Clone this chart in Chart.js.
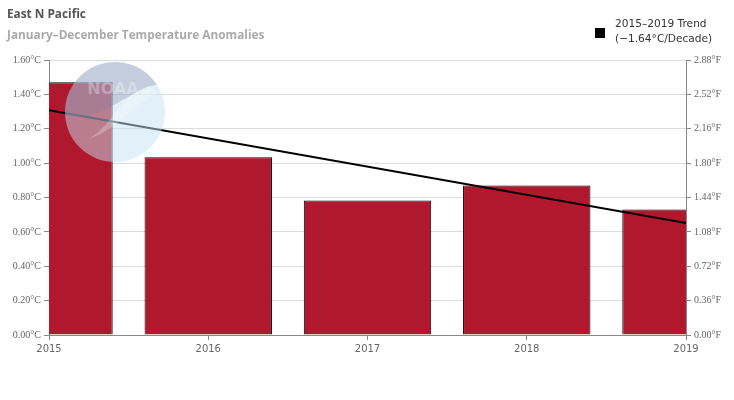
<!DOCTYPE html>
<html>
<head>
<meta charset="utf-8">
<script src="https://cdn.jsdelivr.net/npm/chart.js@4"></script>
<style>
  body { margin: 0; background: #fff; }
  #wrap { position: relative; width: 734px; height: 400px; }
  #title { position: absolute; left: 7px; top: 5px; font: bold 11.8px "Open Sans", sans-serif; color: #555; }
  #subtitle { position: absolute; left: 7px; top: 26px; font: bold 11.8px "Open Sans", sans-serif; color: #aaa; }
  #legend { position: absolute; left: 595px; top: 16px; font: 10.6px "DejaVu Sans", sans-serif; color: #333; line-height: 15px; }
  #legend .box { position: absolute; left: 0; top: 12px; width: 10px; height: 10px; background: #000; }
  #legend .txt { margin-left: 20px; white-space: nowrap; }
</style>
</head>
<body>
<div id="wrap">
  <canvas id="chart" width="734" height="400"></canvas>
  <div id="title">East N Pacific</div>
  <div id="subtitle">January–December Temperature Anomalies</div>
  <div id="legend"><div class="box"></div><div class="txt">2015–2019 Trend<br>(−1.64°C/Decade)</div></div>
</div>
<script>
const years = [2015, 2016, 2017, 2018, 2019];
const anomalies = [1.47, 1.034, 0.782, 0.87, 0.73];
const trendYears = [2015, 2019];
const trendValues = [1.308, 0.652];
const celsiusTicks = [0, 0.2, 0.4, 0.6, 0.8, 1.0, 1.2, 1.4, 1.6];
const fahrenheitTicks = [0, 0.36, 0.72, 1.08, 1.44, 1.80, 2.16, 2.52, 2.88];

const axisColor = "#888";
const labelColor = "#666";

// faint NOAA logo watermark drawn over the bars
const logoPlugin = {
  id: "logo",
  afterDatasetsDraw(chart) {
    const c = chart.ctx;
    const cx = 115, cy = 112, r = 50;
    c.save();
    c.beginPath();
    c.arc(cx, cy, r, 0, Math.PI * 2);
    c.clip();
    c.fillStyle = "rgba(195, 225, 244, 0.5)";
    c.fillRect(cx - r, cy - r, 2 * r, 2 * r);
    c.beginPath();
    c.moveTo(cx - r, cy - r);
    c.lineTo(cx + r, cy - r);
    c.lineTo(cx + r, cy - 28);
    c.bezierCurveTo(cx + 20, cy - 30, cx - 10, cy + 12, cx - r, cy + 4);
    c.closePath();
    c.fillStyle = "rgba(125, 122, 155, 0.3)";
    c.fill();
    c.beginPath();
    c.moveTo(cx + 35, cy - 26);
    c.bezierCurveTo(cx + 5, cy - 20, cx - 5, cy + 20, cx - 30, cy + 28);
    c.bezierCurveTo(cx, cy + 20, cx + 15, cy - 5, cx + 42, cy - 18);
    c.closePath();
    c.fillStyle = "rgba(255, 255, 255, 0.25)";
    c.fill();
    c.font = "bold 16px 'DejaVu Sans', sans-serif";
    c.fillStyle = "rgba(255, 255, 255, 0.3)";
    c.textAlign = "center";
    c.fillText("NOAA", cx - 2, cy - 18);
    c.restore();
  }
};

new Chart(document.getElementById("chart"), {
  type: "bar",
  data: {
    datasets: [
      {
        type: "line",
        label: "2015–2019 Trend",
        data: trendYears.map((x, i) => ({ x, y: trendValues[i] })),
        borderColor: "#000",
        borderWidth: 2,
        pointRadius: 0,
        order: 0
      },
      {
        label: "Anomaly",
        data: years.map((x, i) => ({ x, y: anomalies[i] })),
        backgroundColor: "#b0192d",
        borderColor: "#000",
        borderWidth: 1,
        barPercentage: 0.8,
        categoryPercentage: 1,
        order: 1
      }
    ]
  },
  options: {
    responsive: false,
    animation: false,
    layout: { padding: { top: 60, left: 0, right: 0, bottom: 0 } },
    plugins: { legend: { display: false }, tooltip: { enabled: false } },
    scales: {
      x: {
        type: "linear",
        min: 2015,
        max: 2019,
        offset: false,
        afterBuildTicks: s => { s.ticks = years.map(v => ({ value: v })); },
        afterFit: s => { s.height = 65; },
        ticks: {
          color: labelColor,
          font: { family: "DejaVu Sans", size: 10 },
          padding: 3,
          maxRotation: 0,
          callback: v => String(v)
        },
        grid: { drawOnChartArea: false, drawTicks: true, tickLength: 5, color: axisColor, offset: false },
        border: { color: axisColor }
      },
      y: {
        position: "left",
        min: 0,
        max: 1.6,
        afterBuildTicks: s => { s.ticks = celsiusTicks.map(v => ({ value: v })); },
        afterFit: s => { s.width = 49; },
        ticks: {
          color: labelColor,
          font: { family: "Liberation Serif", size: 10 },
          padding: 3,
          callback: v => v.toFixed(2) + "°C"
        },
        grid: {
          color: "#dcdcdc",
          tickLength: 5,
          tickColor: axisColor
        },
        border: { color: axisColor }
      },
      y1: {
        position: "right",
        min: 0,
        max: 2.88,
        afterBuildTicks: s => { s.ticks = fahrenheitTicks.map(v => ({ value: v })); },
        afterFit: s => { s.width = 48; },
        ticks: {
          color: labelColor,
          font: { family: "Liberation Serif", size: 10 },
          padding: 3,
          callback: v => v.toFixed(2) + "°F"
        },
        grid: { drawOnChartArea: false, tickLength: 5, color: axisColor },
        border: { color: axisColor }
      }
    }
  },
  plugins: [logoPlugin]
});
</script>
</body>
</html>
